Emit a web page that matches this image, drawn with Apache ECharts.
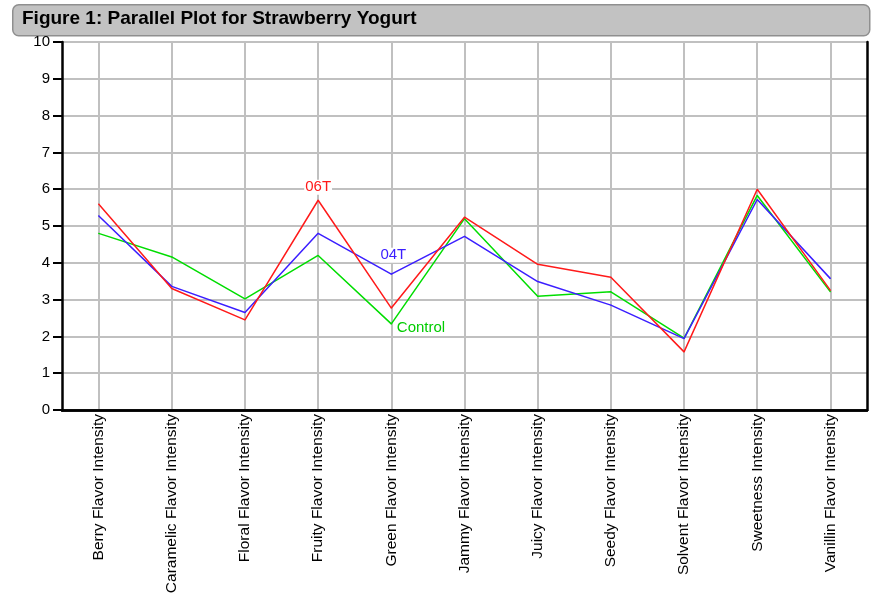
<!DOCTYPE html>
<html>
<head>
<meta charset="utf-8">
<script src="https://cdn.jsdelivr.net/npm/echarts@6/dist/echarts.min.js"></script>
<style>html,body{margin:0;padding:0;background:#fff;}#c{width:872px;height:599px;}</style>
</head>
<body>
<div id="c"></div>
<script>
const categories = ["Berry Flavor Intensity","Caramelic Flavor Intensity","Floral Flavor Intensity","Fruity Flavor Intensity","Green Flavor Intensity","Jammy Flavor Intensity","Juicy Flavor Intensity","Seedy Flavor Intensity","Solvent Flavor Intensity","Sweetness Intensity","Vanillin Flavor Intensity"];
const t06 = [5.60, 3.30, 2.45, 5.70, 2.77, 5.24, 3.96, 3.61, 1.58, 6.00, 3.25];
const t04 = [5.28, 3.36, 2.65, 4.80, 3.69, 4.72, 3.49, 2.85, 1.94, 5.72, 3.57];
const control = [4.80, 4.16, 3.02, 4.20, 2.34, 5.20, 3.09, 3.21, 1.95, 5.83, 3.21];
const yTicks = [0,1,2,3,4,5,6,7,8,9,10];

const font = '"Liberation Sans", Arial, sans-serif';
function withLabel(arr, idx, text, color, pos, offset) {
  return arr.map((v, i) => i === idx ? {value: v, label: {show: true, formatter: text, position: pos, distance: 4, color: color, fontSize: 15, fontFamily: font, backgroundColor: '#fff', padding: [0, 1], offset: offset || [0,0]}} : v);
}

const chart = echarts.init(document.getElementById('c'), null, {renderer: 'canvas'});
chart.setOption({
  animation: false,
  backgroundColor: '#fff',
  graphic: [{
    type: 'rect', left: 12, top: 4,
    shape: {width: 857, height: 31, r: 6},
    style: {fill: '#c2c2c2', stroke: '#8f8f8f', lineWidth: 1.5},
    z: 0
  }, {
    type: 'text', left: 22, top: 9,
    style: {text: 'Figure 1: Parallel Plot for Strawberry Yogurt', font: 'bold 19px ' + font, fill: '#000'},
    z: 1
  }],
  grid: {left: 62, right: 5, top: 42, bottom: 189, show: false},
  xAxis: [{
    type: 'category', data: categories, boundaryGap: true,
    axisLine: {lineStyle: {color: '#000', width: 2.5}},
    axisTick: {show: false},
    axisLabel: {rotate: 90, color: '#000', fontSize: 15.5, fontFamily: font, margin: 4, interval: 0},
    splitLine: {show: false},
    z: 10
  }, {
    type: 'category', data: categories, boundaryGap: true, position: 'top',
    axisLine: {show: true, lineStyle: {color: '#000', width: 2.5}},
    axisTick: {show: false}, axisLabel: {show: false}, splitLine: {show: false},
    z: 10
  }],
  yAxis: [{
    type: 'value', min: yTicks[0], max: yTicks[yTicks.length-1], interval: 1,
    axisLine: {show: true, lineStyle: {color: '#000', width: 2.5}},
    axisTick: {show: true, length: 9, lineStyle: {color: '#000', width: 2}},
    axisLabel: {color: '#000', fontSize: 15, fontFamily: font, margin: 12},
    splitLine: {show: true, lineStyle: {color: '#c0c0c0', width: 2}},
    z: 0
  }, {
    type: 'value', min: yTicks[0], max: yTicks[yTicks.length-1], interval: 1, position: 'right',
    axisLine: {show: true, lineStyle: {color: '#000', width: 2.5}},
    axisTick: {show: false}, axisLabel: {show: false}, splitLine: {show: false},
    z: 10
  }],
  series: [
    {name: 'grid', type: 'line', data: [], silent: true, z: 1,
      markLine: {silent: true, z: 1, symbol: 'none', animation: false, label: {show: false},
        lineStyle: {color: '#c0c0c0', width: 2, type: 'solid'},
        data: categories.map(c => ({xAxis: c}))}},
    {name: 'Control', type: 'line', data: withLabel(control, 4, 'Control', '#00cc00', 'right', [0, 4]), symbol: 'circle', symbolSize: 1, showSymbol: true, lineStyle: {color: '#00dd00', width: 1.5}, itemStyle: {color: '#00dd00'}, z: 6},
    {name: '04T', type: 'line', data: withLabel(t04, 4, '04T', '#3b1eff', 'top', [2, -7]), symbol: 'circle', symbolSize: 1, showSymbol: true, lineStyle: {color: '#3b1eff', width: 1.5}, itemStyle: {color: '#3b1eff'}, z: 7},
    {name: '06T', type: 'line', data: withLabel(t06, 3, '06T', '#ff1a1a', 'top', [0, -1]), symbol: 'circle', symbolSize: 1, showSymbol: true, lineStyle: {color: '#ff1a1a', width: 1.5}, itemStyle: {color: '#ff1a1a'}, z: 8}
  ]
});
</script>
</body>
</html>
